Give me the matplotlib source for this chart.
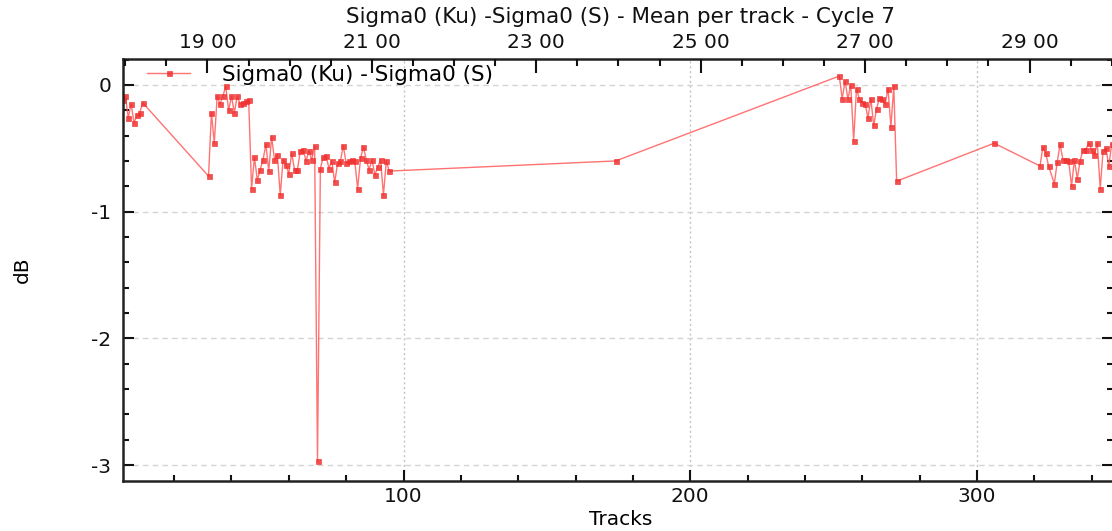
import matplotlib
matplotlib.use("Agg")
import matplotlib.pyplot as plt
from matplotlib.ticker import MultipleLocator, FixedLocator

plt.rcParams['font.family'] = ['DejaVu Sans']
plt.rcParams['axes.unicode_minus'] = False

# ---- data ----
tracks = [2, 3, 4, 5, 6, 7, 8, 9,
          32, 33, 34, 35, 36, 37, 38, 39, 40, 41, 42, 43, 44, 45, 46,
          47, 48, 49, 50, 51, 52, 53, 54, 55, 56, 57, 58, 59, 60, 61, 62, 63, 64, 65,
          66, 67, 68, 69, 70,
          71, 72, 73, 74, 75, 76, 77, 78, 79, 80, 81, 82, 83, 84, 85, 86, 87, 88, 89,
          90, 91, 92, 93, 94, 95,
          174,
          252, 253, 254, 255, 256, 257, 258, 259, 260, 261, 262, 263, 264, 265, 266,
          267, 268, 269, 270, 271, 272,
          306,
          322, 323, 324, 325, 327, 328, 329, 330, 331, 332, 333, 334, 335, 336, 337,
          338, 339, 340, 341, 342, 343, 344, 345, 346, 347]
diff_db = [-0.12, -0.09, -0.26, -0.15, -0.30, -0.24, -0.22, -0.14,
           -0.72, -0.22, -0.46, -0.09, -0.15, -0.09, -0.01, -0.20, -0.09, -0.22, -0.09,
           -0.15, -0.14, -0.13, -0.12,
           -0.82, -0.57, -0.75, -0.67, -0.59, -0.47, -0.68, -0.41, -0.59, -0.55, -0.87,
           -0.59, -0.63, -0.70, -0.54, -0.67, -0.67, -0.52, -0.51,
           -0.60, -0.52, -0.59, -0.48, -2.97,
           -0.66, -0.57, -0.56, -0.66, -0.60, -0.77, -0.62, -0.60, -0.48, -0.62, -0.60,
           -0.59, -0.60, -0.82, -0.58, -0.49, -0.59, -0.67, -0.59,
           -0.71, -0.65, -0.59, -0.87, -0.60, -0.68,
           -0.60,
           0.07, -0.11, 0.03, -0.11, 0.00, -0.44, -0.03, -0.11, -0.14, -0.15, -0.26,
           -0.11, -0.32, -0.19, -0.10, -0.11, -0.15, -0.03, -0.33, -0.01, -0.76,
           -0.46,
           -0.64, -0.49, -0.54, -0.64, -0.78, -0.61, -0.47, -0.59, -0.59, -0.60, -0.80,
           -0.59, -0.74, -0.60, -0.51, -0.51, -0.46, -0.51, -0.55, -0.46, -0.82, -0.52,
           -0.50, -0.64, -0.47]

series_label = "Sigma0 (Ku) - Sigma0 (S)"
title = "Sigma0 (Ku) -Sigma0 (S) - Mean per track - Cycle 7"
x_label = "Tracks"
y_label = "dB"
top_tick_labels = ["19 00", "21 00", "23 00", "25 00", "27 00", "29 00"]
top_tick_pos = [31.6, 88.95, 146.3, 203.65, 261.0, 318.35]

# ---- figure ----
W, H = 1112, 531
fig = plt.figure(figsize=(W / 100, H / 100), dpi=100)
ax = fig.add_axes([0.1102, 0.0942, 0.8908, 0.7948])

ax.plot(tracks, diff_db, color='#ff5a5a', lw=1.0, alpha=0.85,
        marker='s', markersize=3.6, markerfacecolor='#f03030',
        markeredgecolor='#f03030', markeredgewidth=0.5, label=series_label)

ax.set_xlim(2, 347.5)
ax.set_ylim(-3.126, 0.205)

ax.xaxis.set_major_locator(MultipleLocator(100))
ax.xaxis.set_minor_locator(MultipleLocator(20))
ax.yaxis.set_major_locator(MultipleLocator(1))
ax.yaxis.set_minor_locator(MultipleLocator(0.2))

ax.tick_params(which='both', direction='in', right=True, top=False,
               labelsize=14.5, colors='#111111', width=1.5)
ax.tick_params(which='major', length=8)
ax.tick_params(which='minor', length=4)
ax.tick_params(axis='x', pad=4.5)
ax.tick_params(axis='y', pad=8)

for s in ax.spines.values():
    s.set_linewidth(1.8)
    s.set_color('#222222')

ax.yaxis.grid(True, which='major', linestyle=(0, (4, 3)), color='#d4d4d4', lw=1.0)
ax.xaxis.grid(True, which='major', linestyle=(0, (1.5, 2)), color='#c4c4c4', lw=1.0)
ax.set_axisbelow(True)

ax.set_xlabel(x_label, fontsize=14.5)
ax.xaxis.label.set_verticalalignment('center')
ax.xaxis.set_label_coords((621 - 122.5) / 990.5, (481 - 520) / 422)
ax.set_ylabel(y_label, fontsize=14.5)
ax.yaxis.label.set_verticalalignment('center')
ax.yaxis.set_label_coords((22 - 122.5) / 990.5, (481 - 270) / 422)

top = ax.twiny()
top.set_xlim(ax.get_xlim())
top.xaxis.set_major_locator(FixedLocator(top_tick_pos))
top.set_xticklabels(top_tick_labels)
minor_step = (top_tick_pos[1] - top_tick_pos[0]) / 4
minors = []
v = top_tick_pos[0]
while v - minor_step > ax.get_xlim()[0]:
    v -= minor_step
while v < ax.get_xlim()[1]:
    minors.append(v)
    v += minor_step
top.xaxis.set_minor_locator(FixedLocator(minors))
top.tick_params(which='both', direction='in', labelsize=14.5, colors='#111111',
                width=1.5, pad=5)
top.tick_params(which='major', length=10)
top.tick_params(which='minor', length=5)
for s in top.spines.values():
    s.set_visible(False)

fig.text(621 / W, 1 - 17 / H, title, fontsize=15.5, ha='center', va='center',
         color='#111111')

leg = ax.legend(loc='center left', frameon=False,
                fontsize=15.5, handlelength=2.0, handletextpad=1.5, borderaxespad=0.0,
                borderpad=0.0)
leg.set_bbox_to_anchor(((147 - 122.5) / 990.5, (481 - 75) / 422), transform=ax.transAxes)

fig.savefig("out.png", dpi=100)
